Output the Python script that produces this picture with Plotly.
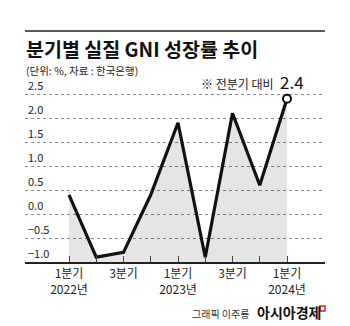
import plotly.graph_objects as go

# Data
quarters = ["2022Q1", "2022Q2", "2022Q3", "2022Q4", "2023Q1", "2023Q2", "2023Q3", "2023Q4", "2024Q1"]
growth = [0.4, -0.9, -0.8, 0.4, 1.9, -0.9, 2.1, 0.6, 2.4]
tick_labels = ["1분기<br>2022년", "", "3분기", "", "1분기<br>2023년", "", "3분기", "", "1분기<br>2024년"]
y_ticks = [-1.0, -0.5, 0.0, 0.5, 1.0, 1.5, 2.0, 2.5]

xs = list(range(len(quarters)))
base = [-1.0] * len(quarters)

W, H = 350, 326
L, R, T, B = 25, 25, 74, 64
PW, PH = W - L - R, H - T - B

def px(x):
    return (x - L) / PW

def py(y):
    return (H - B - y) / PH

FONT = "Noto Sans CJK KR"

fig = go.Figure()
fig.add_trace(go.Scatter(x=xs, y=base, mode="lines", line=dict(width=0), hoverinfo="skip", showlegend=False))
fig.add_trace(go.Scatter(x=xs, y=growth, mode="lines", line=dict(width=0), fill="tonexty",
                         fillcolor="rgba(0,0,0,0.1)", hoverinfo="skip", showlegend=False))
fig.add_trace(go.Scatter(x=xs, y=growth, mode="lines", line=dict(color="#111111", width=3.2),
                         showlegend=False, cliponaxis=False))
fig.add_trace(go.Scatter(x=[xs[-1]], y=[growth[-1]], mode="markers",
                         marker=dict(color="white", size=8, line=dict(color="#111111", width=2)),
                         showlegend=False, cliponaxis=False))

x0 = 69
step = 27.25
xr = [(L - x0) / step, (W - R - x0) / step]
ytop = 2.5 + (94 - T) / 48.0

fig.update_layout(
    width=W, height=H,
    margin=dict(l=L, r=R, t=T, b=B),
    paper_bgcolor="white", plot_bgcolor="white",
    font=dict(family=FONT, color="#222222"),
    xaxis=dict(range=xr, tickmode="array", tickvals=xs, ticktext=tick_labels,
               showgrid=False, zeroline=False, showline=True, linecolor="#222222", linewidth=1.5,
               ticks="inside", ticklen=6, tickcolor="#444444", tickwidth=1,
               tickfont=dict(size=12, color="#222222", family=FONT)),
    yaxis=dict(range=[-1.0, ytop], tickmode="array", tickvals=y_ticks,
               ticktext=["−1.0", "−0.5", "0.0", "0.5", "1.0", "1.5", "2.0", "2.5"],
               showgrid=True, gridcolor="#888888", griddash="dot", gridwidth=1,
               zeroline=False, showline=False, ticks="",
               ticklabelposition="inside top",
               tickfont=dict(size=11, color="#222222", family=FONT)),
)

fig.add_shape(type="line", xref="paper", yref="paper", x0=0, x1=1, y0=py(31), y1=py(31),
              line=dict(color="#222222", width=1.5))

ann = [
    dict(text="<b>분기별 실질 GNI 성장률 추이</b>", x=px(24), y=py(49), size=19.5, color="#111111", xanchor="left"),
    dict(text="(단위: %, 자료 : 한국은행)", x=px(24), y=py(70), size=10.5, color="#222222", xanchor="left"),
    dict(text="※ 전분기 대비", x=px(276), y=py(83), size=12, color="#222222", xanchor="right"),
    dict(text="2.4", x=px(278), y=py(81), size=17, color="#111111", xanchor="left"),
    dict(text="그래픽 이주룡", x=px(251), y=py(313), size=10, color="#333333", xanchor="right"),
    dict(text="<b>아시아경제</b>", x=px(255), y=py(312), size=14, color="#111111", xanchor="left"),
]
for a in ann:
    fig.add_annotation(text=a["text"], x=a["x"], y=a["y"], xref="paper", yref="paper",
                       xanchor=a["xanchor"], yanchor="middle", showarrow=False,
                       font=dict(size=a["size"], color=a["color"], family=FONT))

fig.add_shape(type="rect", xref="paper", yref="paper", x0=px(320), x1=px(325), y0=py(311), y1=py(306),
              line=dict(color="#d0202a", width=1.5))

fig.write_html("out.html")
